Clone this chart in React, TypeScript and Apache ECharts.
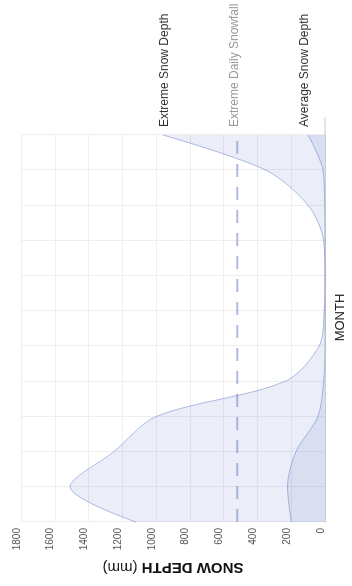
import React, { useEffect, useRef } from "react";
import * as echarts from "echarts";

const months = ["Jan", "Feb", "Mar", "Apr", "May", "Jun", "Jul", "Aug", "Sep", "Oct", "Nov", "Dec"];
const extremeSnowDepth = [1120, 1510, 1250, 1000, 235, 35, 5, 0, 8, 100, 350, 960];
const averageSnowDepth = [200, 222, 172, 42, 8, 0, 0, 0, 0, 2, 12, 100];
const extremeDailySnowfall = [520, 520, 520, 520, 520, 520, 520, 520, 520, 520, 520, 520];
const depthMin = 0;
const depthMax = 1800;
const depthStep = 200;

const FONT = "'Liberation Sans', Arial, sans-serif";

export default function App() {
  const ref = useRef<HTMLDivElement>(null);
  useEffect(() => {
    if (!ref.current) return;
    const chart = echarts.init(ref.current, undefined, { renderer: "svg" });
    const fill = "rgba(84,112,198,0.17)";
    const line = "rgba(84,112,198,0.45)";
    chart.setOption({
      animation: false,
      textStyle: { fontFamily: FONT },
      grid: { left: 64, right: 135, top: 21, bottom: 27 },
      legend: {
        orient: "vertical",
        left: 449,
        top: 152,
        icon: "none",
        itemWidth: 0,
        itemHeight: 14,
        itemGap: 57,
        selectedMode: false,
        textStyle: { fontSize: 12, color: "#333", fontFamily: FONT },
        data: [
          { name: "Extreme Snow Depth" },
          { name: "Extreme Daily Snowfall", textStyle: { color: "#999" } },
          { name: "Average Snow Depth" },
        ],
      },
      xAxis: {
        type: "category",
        data: months,
        boundaryGap: false,
        name: "MONTH",
        nameLocation: "middle",
        nameGap: 8,
        nameTextStyle: { fontSize: 13, color: "#222", fontFamily: FONT, padding: [0, 0, 0, 22] },
        axisLabel: { show: false },
        axisTick: { show: false },
        axisLine: {
          lineStyle: { color: "#ccc" },
          symbol: ["none", "rect"],
          symbolSize: [1, 18],
          symbolOffset: [0, 9],
        },
        splitLine: { show: true, lineStyle: { color: "#eee" } },
      },
      yAxis: {
        type: "value",
        min: depthMin,
        max: depthMax,
        interval: depthStep,
        name: "{b|SNOW DEPTH} (mm)",
        nameLocation: "middle",
        nameGap: 37,
        nameTextStyle: {
          fontSize: 15,
          color: "#222",
          fontFamily: FONT,
          rich: { b: { fontSize: 15, fontWeight: "bold", color: "#111", fontFamily: FONT } },
        },
        axisLabel: {
          fontSize: 10,
          color: "#555",
          margin: 6,
          verticalAlign: "bottom",
          fontFamily: FONT,
          formatter: (v: number) => String(v),
        },
        axisLine: { show: false },
        axisTick: { show: false },
        splitLine: { lineStyle: { color: "#eee" } },
      },
      series: [
        {
          name: "Extreme Snow Depth",
          type: "line",
          data: extremeSnowDepth,
          smooth: 0.3,
          symbol: "none",
          itemStyle: { color: "#5470c6" },
          lineStyle: { width: 1, color: line },
          areaStyle: { color: fill },
        },
        {
          name: "Extreme Daily Snowfall",
          type: "line",
          data: extremeDailySnowfall,
          symbol: "none",
          itemStyle: { color: "#5470c6" },
          lineStyle: { width: 2, type: [13, 10], color: "rgba(84,100,190,0.45)" },
        },
        {
          name: "Average Snow Depth",
          type: "line",
          data: averageSnowDepth,
          smooth: 0.3,
          symbol: "none",
          itemStyle: { color: "#5470c6" },
          lineStyle: { width: 1, color: line },
          areaStyle: { color: fill },
        },
      ],
    });
    return () => chart.dispose();
  }, []);
  return (
    <div
      ref={ref}
      style={{
        position: "fixed",
        left: 0,
        top: 0,
        width: 586,
        height: 352,
        transformOrigin: "0 0",
        transform: "translate(0px, 586px) rotate(-90deg)",
        background: "#fff",
      }}
    />
  );
}
